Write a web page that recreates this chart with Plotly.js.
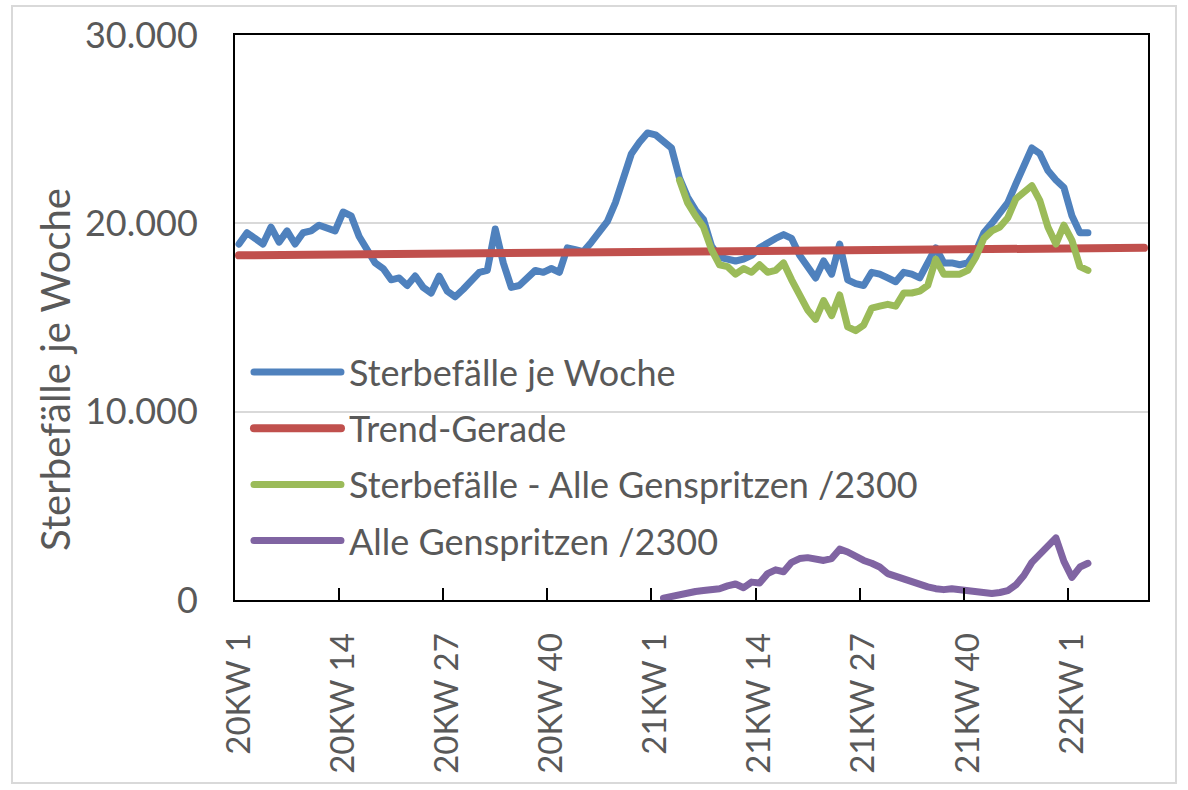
<!DOCTYPE html>
<html>
<head>
<meta charset="utf-8">
<script src="https://cdn.plot.ly/plotly-3.0.1.min.js"></script>
<style>
  html, body { margin: 0; padding: 0; background: #ffffff; }
  #chart { width: 1188px; height: 790px; }
</style>
</head>
<body>
<div id="chart"></div>
<script>
// ---- category labels (calendar weeks) ----
const years = [
  { prefix: '20KW ', weeks: 52 },
  { prefix: '21KW ', weeks: 52 },
  { prefix: '22KW ', weeks: 10 }
];
const categories = [];
years.forEach(function (yr) {
  for (let w = 1; w <= yr.weeks; w++) categories.push(yr.prefix + w);
});

// tick labels shown on the x axis
const tickLabels = ['20KW 1', '20KW 14', '20KW 27', '20KW 40', '21KW 1', '21KW 14', '21KW 27', '21KW 40', '22KW 1'];
// category boundaries where Excel draws its tick marks
const tickMarkBoundaries = [12.5, 25.5, 38.5, 51.5, 64.5, 77.5, 90.5, 103.5];

// ---- series values ----
// Sterbefälle je Woche, starting at 20KW 1
const deaths = [
  18900, 19500, 19200, 18900, 19800, 19000, 19600, 18900, 19500, 19600,
  19900, 19700, 19600, 20600, 20400, 19300, 18600, 17900, 17600, 17000,
  17100, 16700, 17200, 16600, 16300, 17200, 16400, 16100, 16500, 17000,
  17400, 17500, 19700, 17900, 16600, 16700, 17100, 17500, 17400, 17600,
  17400, 18700, 18600, 18500, 19000, 19600, 20100, 21100, 22400, 23700,
  24300, 24800, 24700, 24400, 24000, 22400, 21400, 20700, 20200, 18800,
  18200, 18100, 18000, 18100, 18300, 18700, 19000, 19200, 19400, 19200,
  18300, 17700, 17100, 18000, 17300, 18900, 17000, 16800, 16700, 17400,
  17300, 17100, 16900, 17400, 17300, 17100, 17900, 18700, 17900, 17900,
  17800, 17900, 18500, 19500, 20000, 20500, 21100, 22100, 23100, 24000,
  23700, 22800, 22300, 21900, 20400, 19500, 19500
];

// Trend-Gerade: values at first and last category
const trendIdx = [0, 113];
const trendValues = [18300, 18700];

// Sterbefälle - Alle Genspritzen /2300, starting at 21KW 4
const deathsMinusShots = [
  22300, 21100, 20400, 19800, 18600, 17800, 17700, 17300, 17600, 17400,
  17800, 17400, 17500, 17900, 17000, 16100, 15400, 14900, 15900, 15100,
  16200, 14500, 14300, 14600, 15500, 15600, 15700, 15600, 16300, 16300,
  16400, 16700, 18100, 17300, 17300, 17300, 17500, 18200, 19200, 19600,
  19800, 20300, 21300, 21700, 22000, 21200, 19800, 18900, 19900, 19100,
  17700, 17500
];
const deathsMinusShotsStart = 55;

// Alle Genspritzen /2300, starting at 21KW 2
const shots = [
  100, 200, 300, 350, 450, 500, 550, 600, 750, 850,
  650, 950, 900, 1400, 1600, 1500, 2000, 2200, 2250, 2200,
  2100, 2200, 2700, 2550, 2300, 2100, 1950, 1750, 1400, 1250,
  1100, 1000, 850, 700, 600, 550, 600, 550, 450, 400,
  350, 350, 400, 500, 800, 1300, 2000, 2450, 2900, 3300,
  2050, 1200, 1750, 1950
];
const shotsStart = 53;

// ---- traces ----
const C_BLUE = '#4F81BD', C_RED = '#C0504D', C_GREEN = '#9BBB59', C_PURPLE = '#8064A2';

const traces = [
  {
    name: 'Sterbefälle je Woche', legendgroup: 'g1',
    x: categories.slice(0, deaths.length), y: deaths,
    type: 'scatter', mode: 'lines', line: { color: C_BLUE, width: 7 }
  },
  {
    name: 'Trend-Gerade', legendgroup: 'g2',
    x: trendIdx.map(function (i) { return categories[i]; }), y: trendValues,
    type: 'scatter', mode: 'lines', line: { color: C_RED, width: 8 }
  },
  {
    name: 'Sterbefälle - Alle Genspritzen /2300', legendgroup: 'g3',
    x: categories.slice(deathsMinusShotsStart, deathsMinusShotsStart + deathsMinusShots.length), y: deathsMinusShots,
    type: 'scatter', mode: 'lines', line: { color: C_GREEN, width: 7 }
  },
  {
    name: 'Alle Genspritzen /2300', legendgroup: 'g4',
    x: categories.slice(shotsStart, shotsStart + shots.length), y: shots,
    type: 'scatter', mode: 'lines', line: { color: C_PURPLE, width: 7 }
  },
  { // carrier for the tick-mark axis
    x: [], y: [], xaxis: 'x2', yaxis: 'y', type: 'scatter', mode: 'lines',
    showlegend: false, hoverinfo: 'skip'
  }
];

const TXT = '#595959';
const FONT = 'Lato, "Liberation Sans", Arial, sans-serif';

const layout = {
  width: 1188, height: 790,
  margin: { l: 235, r: 40, t: 35, b: 190, pad: 0 },
  paper_bgcolor: '#ffffff', plot_bgcolor: '#ffffff',
  separators: ',.',
  font: { family: FONT, color: TXT, size: 36 },
  showlegend: true,
  legend: {
    x: 0.0153, y: 0.4565, xanchor: 'left', yanchor: 'top',
    bgcolor: 'rgba(0,0,0,0)', borderwidth: 0,
    font: { family: FONT, size: 36, color: TXT },
    itemwidth: 90, tracegroupgap: 6.4, traceorder: 'grouped'
  },
  xaxis: {
    type: 'category', categoryorder: 'array', categoryarray: categories,
    range: [-0.5, categories.length - 0.5],
    tickmode: 'array', tickvals: tickLabels, ticktext: tickLabels,
    tickangle: -90, ticks: '', ticklabelstandoff: 18,
    tickfont: { family: FONT, size: 33, color: TXT },
    showgrid: false, zeroline: false,
    showline: true, mirror: true, linecolor: '#000000', linewidth: 2,
    fixedrange: true
  },
  xaxis2: {
    overlaying: 'x', anchor: 'y', side: 'bottom', type: 'linear',
    range: [-0.5, categories.length - 0.5],
    tickmode: 'array', tickvals: tickMarkBoundaries,
    ticks: 'inside', ticklen: 12, tickwidth: 2, tickcolor: '#000000',
    showticklabels: false, showgrid: false, zeroline: false, showline: false
  },
  yaxis: {
    range: [0, 30000], tickmode: 'linear', tick0: 0, dtick: 10000,
    tickformat: ',d', ticks: '', ticklabelstandoff: 28,
    tickfont: { family: FONT, size: 36, color: TXT },
    showgrid: true, gridcolor: '#D9D9D9', gridwidth: 2, zeroline: false,
    showline: true, mirror: true, linecolor: '#000000', linewidth: 2,
    title: { text: 'Sterbefälle je Woche', font: { family: FONT, size: 40, color: TXT }, standoff: 10 },
    fixedrange: true
  },
  shapes: [
    { type: 'rect', xref: 'paper', yref: 'paper', layer: 'below',
      x0: (12 - 235) / 913, x1: (1176 - 235) / 913,
      y0: (600 - 783) / 565, y1: (600 - 6) / 565,
      line: { color: '#D9D9D9', width: 2 }, fillcolor: 'rgba(0,0,0,0)' }
  ]
};

Plotly.newPlot('chart', traces, layout, { displayModeBar: false, staticPlot: true }).then(function () {
  document.querySelectorAll('.legendlines path').forEach(function (p) {
    p.setAttribute('d', 'M5,0h87');
    p.style.strokeLinecap = 'round';
  });
  document.querySelectorAll('.scatterlayer .js-line').forEach(function (p) {
    p.style.strokeLinejoin = 'round';
    p.style.strokeLinecap = 'round';
  });
  // Excel places the value-axis title lower than the axis centre
  document.querySelectorAll('.g-ytitle').forEach(function (g) {
    g.setAttribute('transform', 'translate(8,52)');
  });
});
</script>
</body>
</html>
